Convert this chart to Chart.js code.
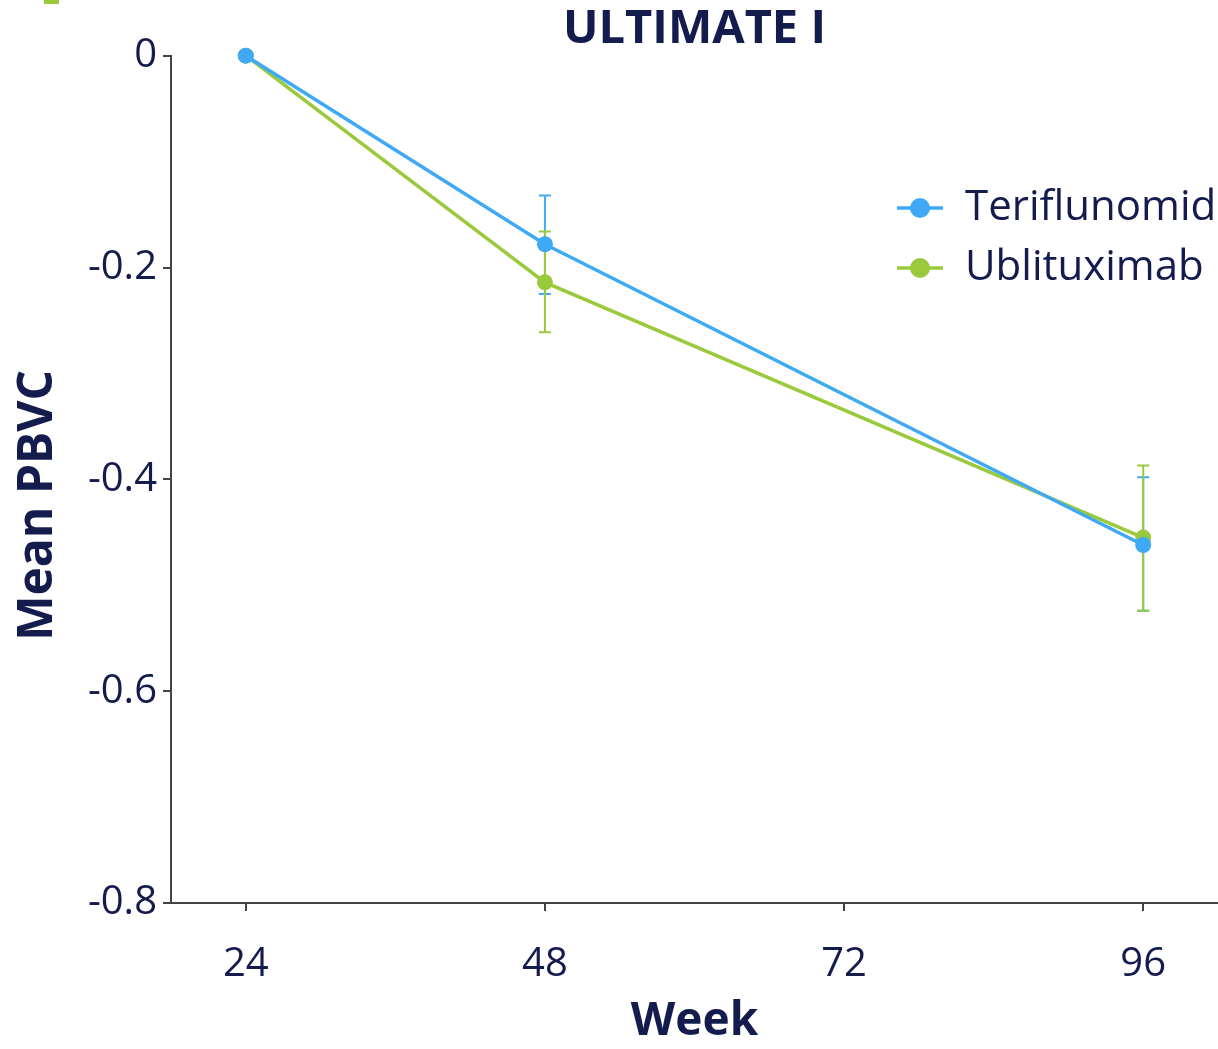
<!DOCTYPE html>
<html>
<head>
<meta charset="utf-8">
<script src="https://cdn.jsdelivr.net/npm/chart.js@4.4.1/dist/chart.umd.min.js"></script>
<style>
  html, body { margin: 0; padding: 0; background: #fff; }
  #wrap { width: 1218px; height: 1049px; }
</style>
</head>
<body>
<div id="wrap"><canvas id="pbvcChart" width="1218" height="1049"></canvas></div>
<script>
// data
const weeks = [24, 48, 96];
const xTicks = [24, 48, 72, 96];
const teriflunomid = [0, -0.178, -0.462];
const teriflunomidUpper = [null, -0.132, -0.398];
const teriflunomidLower = [null, -0.225, -0.524];
const ublituximab = [0, -0.214, -0.455];
const ublituximabUpper = [null, -0.166, -0.387];
const ublituximabLower = [null, -0.261, -0.524];

const navy = '#141B4D';
const blue = '#3FA9F5';
const green = '#9ACA3C';
const axisGrey = '#444444';
const fontFamily = '"Open Sans", "Noto Sans", sans-serif';

function toPoints(values) {
  return weeks.map((w, i) => ({ x: w, y: values[i] }));
}

// error bars drawn under the points, through the chart scales
const errorBars = {
  id: 'errorBars',
  beforeDatasetsDraw(chart) {
    const ctx = chart.ctx;
    const xs = chart.scales.x;
    const ys = chart.scales.y;
    chart.data.datasets.forEach(ds => {
      if (!ds.errUpper) return;
      ctx.save();
      ctx.strokeStyle = ds.borderColor;
      ctx.lineWidth = 2;
      weeks.forEach((w, i) => {
        if (ds.errUpper[i] == null) return;
        const x = xs.getPixelForValue(w);
        const yTop = ys.getPixelForValue(ds.errUpper[i]);
        const yBot = ys.getPixelForValue(ds.errLower[i]);
        ctx.beginPath();
        ctx.moveTo(x, yTop); ctx.lineTo(x, yBot);
        ctx.moveTo(x - 6, yTop); ctx.lineTo(x + 6, yTop);
        ctx.moveTo(x - 6, yBot); ctx.lineTo(x + 6, yBot);
        ctx.stroke();
      });
      ctx.restore();
    });
  }
};

// legend inside the plot (top right), y-axis title and corner accent
const extras = {
  id: 'extras',
  afterDraw(chart) {
    const ctx = chart.ctx;
    const area = chart.chartArea;
    ctx.save();
    ctx.fillStyle = green;
    ctx.fillRect(44, 0, 15, 4);

    chart.data.datasets.forEach((ds, i) => {
      const y = 208 + i * 60;
      ctx.strokeStyle = ds.borderColor;
      ctx.lineWidth = 3.5;
      ctx.beginPath();
      ctx.moveTo(897, y); ctx.lineTo(943, y);
      ctx.stroke();
      ctx.fillStyle = ds.borderColor;
      ctx.beginPath();
      ctx.arc(920, y, 10, 0, Math.PI * 2);
      ctx.fill();
      ctx.fillStyle = navy;
      ctx.font = '42px ' + fontFamily;
      ctx.textAlign = 'left';
      ctx.textBaseline = 'middle';
      ctx.fillText(ds.label, 965, y);
    });

    ctx.translate(38, (area.top + area.bottom) / 2 + 26);
    ctx.rotate(-Math.PI / 2);
    ctx.fillStyle = navy;
    ctx.font = 'bold 48px ' + fontFamily;
    ctx.textAlign = 'center';
    ctx.textBaseline = 'middle';
    ctx.fillText('Mean PBVC', 0, 0);
    ctx.restore();
  }
};

const ctx = document.getElementById('pbvcChart').getContext('2d');
new Chart(ctx, {
  type: 'line',
  data: {
    datasets: [
      {
        label: 'Teriflunomid',
        data: toPoints(teriflunomid),
        errUpper: teriflunomidUpper,
        errLower: teriflunomidLower,
        borderColor: blue,
        backgroundColor: blue,
        borderWidth: 3.5,
        pointRadius: 8,
        pointBorderWidth: 0,
        tension: 0,
        clip: false
      },
      {
        label: 'Ublituximab',
        data: toPoints(ublituximab),
        errUpper: ublituximabUpper,
        errLower: ublituximabLower,
        borderColor: green,
        backgroundColor: green,
        borderWidth: 3.5,
        pointRadius: 8,
        pointBorderWidth: 0,
        tension: 0,
        clip: false
      }
    ]
  },
  options: {
    responsive: false,
    animation: false,
    layout: { padding: 0, autoPadding: false },
    plugins: {
      legend: { display: false },
      tooltip: { enabled: false },
      title: {
        display: true,
        text: 'ULTIMATE I',
        color: navy,
        fullSize: false,
        font: { family: fontFamily, size: 47, weight: 'bold', lineHeight: 1.1 },
        padding: { top: 4, bottom: 0 }
      }
    },
    scales: {
      x: {
        type: 'linear',
        min: 18,
        max: 102,
        afterBuildTicks: scale => { scale.ticks = xTicks.map(v => ({ value: v })); },
        afterFit: scale => {
          scale.height = 146;
          scale.paddingLeft = 0;
          scale.paddingRight = 0;
        },
        grid: { display: true, drawOnChartArea: false, drawTicks: true, tickLength: 8, lineWidth: 2, color: axisGrey },
        border: { display: true, color: axisGrey, width: 2 },
        ticks: {
          color: navy,
          padding: 30,
          maxRotation: 0,
          font: { family: fontFamily, size: 40 }
        },
        title: {
          display: true,
          text: 'Week',
          color: navy,
          font: { family: fontFamily, size: 46, weight: 'bold', lineHeight: 1.2 },
          padding: { top: 0, bottom: 0 }
        }
      },
      y: {
        min: -0.8,
        max: 0,
        afterFit: scale => { scale.width = 171; },
        grid: { display: true, drawOnChartArea: false, drawTicks: true, tickLength: 8, lineWidth: 2, color: axisGrey },
        border: { display: true, color: axisGrey, width: 2 },
        ticks: {
          stepSize: 0.2,
          color: navy,
          padding: 6,
          font: { family: fontFamily, size: 40 },
          callback: v => (Math.abs(v) < 1e-9 ? '0' : v.toFixed(1))
        },
        title: { display: false }
      }
    }
  },
  plugins: [errorBars, extras]
});
</script>
</body>
</html>
